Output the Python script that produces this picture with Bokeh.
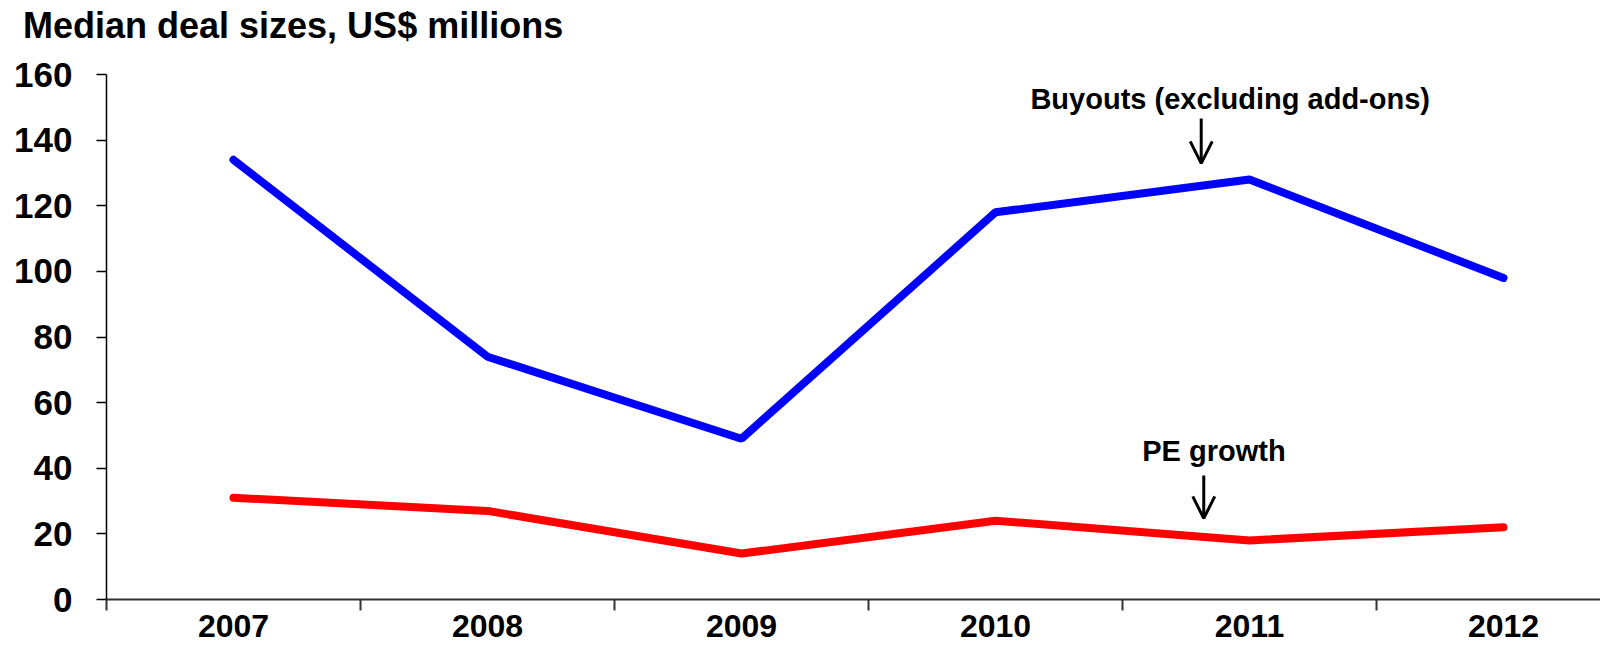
from bokeh.plotting import figure
from bokeh.models import FixedTicker, Label, Arrow, OpenHead, Range1d, Div
from bokeh.layouts import column
from bokeh.embed import file_html
from bokeh.resources import INLINE

years = [2007, 2008, 2009, 2010, 2011, 2012]
buyouts = [134, 74, 49, 118, 128, 98]
pe_growth = [31, 27, 14, 24, 18, 22]
y_ticks = [0, 20, 40, 60, 80, 100, 120, 140, 160]
category_edges = [2006.5, 2007.5, 2008.5, 2009.5, 2010.5, 2011.5, 2012.5]
title_text = "Median deal sizes, US$ millions"

FONT = "Liberation Sans"
TITLE_H = 48

title = Div(
    text=('<div style="margin:0;padding:6px 0 0 23px;line-height:40px;'
          "font-family:'Liberation Sans';font-size:36px;font-weight:bold;"
          'color:black;white-space:nowrap;">' + title_text + '</div>'),
    width=800, height=TITLE_H, margin=(0, 0, 0, 0))

p = figure(width=1600, height=643 - TITLE_H, output_backend="svg", toolbar_location=None,
           x_range=Range1d(2006.5, 2012.382), y_range=Range1d(0, 160),
           min_border_left=106, min_border_right=0, min_border_top=74 - TITLE_H,
           min_border_bottom=44, margin=(0, 0, 0, 0))
p.outline_line_color = None
p.grid.visible = False
p.background_fill_color = "white"
p.border_fill_color = "white"

p.line(years, buyouts, line_color="#0000FF", line_width=8, line_cap="round")
p.line(years, pe_growth, line_color="#FF0000", line_width=8, line_cap="round")

# axes
p.xaxis.ticker = FixedTicker(ticks=years, minor_ticks=category_edges)
p.xaxis.major_tick_out = 0
p.xaxis.major_tick_in = 0
p.xaxis.minor_tick_out = 11
p.xaxis.minor_tick_in = 0
p.xaxis.minor_tick_line_color = "#333333"
p.xaxis.minor_tick_line_width = 2
p.xaxis.axis_line_color = "#333333"
p.xaxis.axis_line_width = 2
p.xaxis.major_label_standoff = 4
p.xaxis.major_label_text_font = FONT
p.xaxis.major_label_text_font_style = "bold"
p.xaxis.major_label_text_font_size = "32px"
p.xaxis.major_label_text_color = "black"

p.yaxis.ticker = FixedTicker(ticks=y_ticks)
p.yaxis.minor_tick_line_color = None
p.yaxis.major_tick_out = 10
p.yaxis.major_tick_in = 0
p.yaxis.major_tick_line_color = "black"
p.yaxis.major_tick_line_width = 1.5
p.yaxis.axis_line_color = "black"
p.yaxis.axis_line_width = 1.5
p.yaxis.major_label_standoff = 24
p.yaxis.major_label_text_font = FONT
p.yaxis.major_label_text_font_style = "bold"
p.yaxis.major_label_text_font_size = "35px"
p.yaxis.major_label_text_color = "black"

# annotations
buyouts_label = dict(x=2010.94, y=152.6, text="Buyouts (excluding  add-ons)")
buyouts_arrow = dict(x=2010.81, y0=146.6, y1=132.9)
pe_label = dict(x=2010.86, y=45.2, text="PE growth")
pe_arrow = dict(x=2010.82, y0=37.8, y1=24.7)

for lab in (buyouts_label, pe_label):
    p.add_layout(Label(x=lab["x"], y=lab["y"], text=lab["text"], text_align="center",
                       text_baseline="alphabetic", text_font=FONT, text_font_style="bold",
                       text_font_size="29px", text_color="black"))
for ar in (buyouts_arrow, pe_arrow):
    p.add_layout(Arrow(end=OpenHead(size=22, line_width=3, line_color="black"),
                       x_start=ar["x"], y_start=ar["y0"], x_end=ar["x"], y_end=ar["y1"],
                       line_width=3, line_color="black"))

layout = column(title, p, spacing=0)
open("out.html", "w").write(file_html(layout, INLINE))
